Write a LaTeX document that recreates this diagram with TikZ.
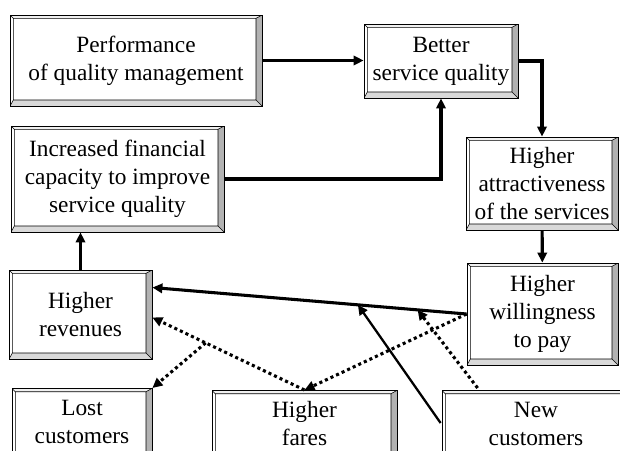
\documentclass[tikz,border=0pt]{standalone}
\usepackage{fontspec}
\setmainfont{Liberation Serif}
\usetikzlibrary{arrows.meta,calc}
\tikzset{
  bevel/.style={draw, line width=0.6pt, fill=white, align=center,
    inner xsep=2pt, inner ysep=2pt, font=\fontsize{17.5}{21}\selectfont,
    path picture={
      \path (path picture bounding box.north west) coordinate (o1)
        (path picture bounding box.north east) coordinate (o2)
        (path picture bounding box.south east) coordinate (o3)
        (path picture bounding box.south west) coordinate (o4)
        ([shift={(2.5pt,-2.5pt)}]path picture bounding box.north west) coordinate (i1)
        ([shift={(-4.5pt,-2.5pt)}]path picture bounding box.north east) coordinate (i2)
        ([shift={(-4.5pt,4.5pt)}]path picture bounding box.south east) coordinate (i3)
        ([shift={(2.5pt,4.5pt)}]path picture bounding box.south west) coordinate (i4);
      \fill[gray!12] (o1) -- (o2) -- (i2) -- (i1) -- cycle;
      \fill[gray!60] (o2) -- (o3) -- (i3) -- (i2) -- cycle;
      \fill[gray!30] (o3) -- (o4) -- (i4) -- (i3) -- cycle;
      \draw[line width=0.4pt] (i1) rectangle (i3)
        (o1) -- (i1) (o2) -- (i2) (o3) -- (i3) (o4) -- (i4);
    }},
  cut/.style={bevel, anchor=north, inner ysep=8.5pt, text depth=50pt},
  arr/.style={-{Triangle[length=7.5pt,width=7pt]}, line width=2.3pt},
  thinarr/.style={-{Triangle[length=7.5pt,width=7pt]}, line width=1.7pt},
  dotarr/.style={-{Triangle[length=7.5pt,width=7pt]}, line width=2.3pt,
    dash pattern=on 2.3pt off 2.3pt}
}
\begin{document}
\begin{tikzpicture}[x=0.75pt,y=-0.75pt]
  \useasboundingbox (0,0) rectangle (620,450);
  \clip (0,0) rectangle (620,450);
  \node[bevel, minimum width=189pt, minimum height=68.25pt] (perf) at (136,60.5)
    {Performance\\of quality management};
  \node[bevel, minimum width=115.5pt, minimum height=55.5pt] (better) at (441,61)
    {Better\\service quality};
  \node[bevel, minimum width=159.75pt, minimum height=79.5pt] (finance) at (117.5,179)
    {Increased financial\\capacity to improve\\service quality};
  \node[bevel, minimum width=114pt, minimum height=69.75pt] (attract) at (542,183.5)
    {Higher\\attractiveness\\of the services};
  \node[bevel, minimum width=113.25pt, minimum height=76.5pt] (willing) at (542.5,314)
    {Higher\\willingness\\to pay};
  \node[bevel, minimum width=107.25pt, minimum height=66.75pt] (revenue) at (80.5,314.5)
    {Higher\\revenues};
  \node[cut, minimum width=105pt] (lost) at (82,388) {Lost\\customers};
  \node[cut, minimum width=138.75pt] (fares) at (304.5,390) {Higher\\fares};
  \node[cut, minimum width=141pt] (newc) at (536,390) {New\\customers};

  \coordinate (rv) at ($(revenue.east)+(0,-27)$);
  \coordinate (rv2) at ($(revenue.east)+(0,3)$);

  \draw[arr] (perf.east) -- (perf.east -| better.west);
  \draw[arr] (better.east) -| (attract.north);
  \draw[arr] (attract) -- (willing);
  \draw[arr] (finance.east) -| (better.south);
  \draw[arr] (revenue) -- (revenue |- finance.south);
  \draw[arr] (willing.west) -- (rv);
  \draw[thinarr] ($(newc.north west)+(-1,33)$) -- ($(willing.west)!0.346!(rv)$);
  \draw[dotarr] ($(newc.north west)+(36,-2)$) -- ($(willing.west)!0.156!(rv)$);
  \draw[dotarr] (willing.west) -- (fares.north);
  \draw[dotarr] (fares.north) -- (rv2);
  \draw[dotarr] ($(rv2)!0.35!(fares.north)$) -- (lost.north east);
\end{tikzpicture}
\end{document}
